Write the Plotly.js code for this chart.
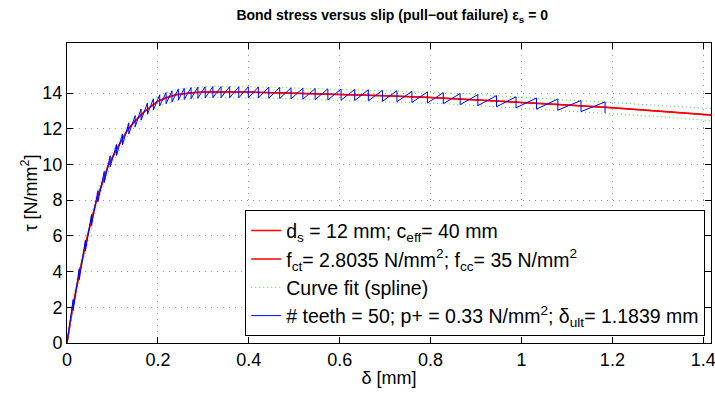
<!DOCTYPE html>
<html>
<head>
<meta charset="utf-8">
<script src="https://cdn.plot.ly/plotly-3.0.1.min.js"></script>
<style>html,body{margin:0;padding:0;background:#fff}#chart{width:715px;height:394px}</style>
</head>
<body>
<div id="chart"></div>
<script>
// Smooth bond-slip curve (red)
const redDelta = [0, 0.0125, 0.028, 0.045, 0.065, 0.08, 0.091, 0.11, 0.135, 0.15, 0.17, 0.2, 0.22, 0.24, 0.27, 0.3, 0.35, 0.4, 0.5, 0.6, 0.7, 0.8, 0.9, 1.0, 1.1, 1.2, 1.3, 1.417];
const redTau   = [0, 2, 4, 6, 8, 9.15, 9.95, 10.88, 12.0, 12.43, 12.95, 13.55, 13.75, 13.9, 14.0, 14.05, 14.06, 14.05, 13.98, 13.92, 13.85, 13.75, 13.62, 13.47, 13.33, 13.17, 13.0, 12.77];

// Sawtooth (blue): tooth break positions, value just before the drop, value just after the drop
const teethDelta = [0, 0.0135, 0.027, 0.0405, 0.054, 0.068, 0.082, 0.095, 0.109, 0.122, 0.136, 0.150, 0.163, 0.177, 0.190, 0.204, 0.218, 0.231, 0.245, 0.258, 0.273, 0.288, 0.304, 0.321, 0.339, 0.358, 0.378, 0.399, 0.421, 0.444, 0.468, 0.493, 0.519, 0.546, 0.574, 0.603, 0.633, 0.663, 0.694, 0.726, 0.759, 0.793, 0.828, 0.865, 0.904, 0.945, 0.988, 1.033, 1.080, 1.131, 1.1839];
const teethStart = 0;
const blueTop = [2.43, 4.17, 5.77, 7.20, 8.53, 9.61, 10.48, 11.12, 11.71, 12.33, 12.73, 13.10, 13.43, 13.67, 13.90, 14.02, 14.12, 14.22, 14.26, 14.30, 14.33, 14.35, 14.36, 14.36, 14.36, 14.35, 14.35, 14.34, 14.33, 14.31, 14.29, 14.27, 14.25, 14.23, 14.22, 14.20, 14.18, 14.15, 14.13, 14.09, 14.06, 14.02, 13.97, 13.91, 13.85, 13.79, 13.72, 13.66, 13.58, 13.50];
const blueBottom = [1.81, 3.55, 5.15, 6.58, 7.91, 8.99, 9.86, 10.50, 11.09, 11.71, 12.11, 12.48, 12.81, 13.05, 13.28, 13.40, 13.50, 13.60, 13.64, 13.68, 13.71, 13.73, 13.74, 13.74, 13.74, 13.73, 13.73, 13.72, 13.71, 13.69, 13.67, 13.65, 13.63, 13.61, 13.60, 13.58, 13.56, 13.53, 13.51, 13.47, 13.44, 13.40, 13.35, 13.29, 13.23, 13.17, 13.10, 13.04, 12.96, 12.88];

// Spline envelope extension beyond the last tooth (green)
const extDelta = [1.25, 1.3, 1.35, 1.417];
const extUpper = [13.42, 13.33, 13.24, 13.13];
const extLower = [12.77, 12.68, 12.58, 12.45];

// Axis ticks
const xTicks = [0, 0.2, 0.4, 0.6, 0.8, 1, 1.2, 1.4];
const xTickText = ['0', '0.2', '0.4', '0.6', '0.8', '1', '1.2', '1.4'];
const yTicks = [0, 2, 4, 6, 8, 10, 12, 14];
const yTickText = ['0', '2', '4', '6', '8', '10', '12', '14'];

const legendNames = [
  'd<sub>s</sub> = 12 mm; c<sub>eff</sub>= 40 mm',
  'f<sub>ct</sub>= 2.8035 N/mm<sup>2</sup>; f<sub>cc</sub>= 35 N/mm<sup>2</sup>',
  'Curve fit (spline)',
  '# teeth = 50; p+ = 0.33 N/mm<sup>2</sup>; δ<sub>ult</sub>= 1.1839 mm'
];

// Build sawtooth path
const blueX = [teethDelta[0]], blueY = [teethStart];
for (let i = 1; i < teethDelta.length; i++) {
  blueX.push(teethDelta[i], teethDelta[i]);
  blueY.push(blueTop[i - 1], blueBottom[i - 1]);
}
const upX = [teethDelta[0]].concat(teethDelta.slice(1), extDelta);
const upY = [teethStart].concat(blueTop, extUpper);
const loY = [teethStart].concat(blueBottom, extLower);

const FONT = 'Liberation Sans, Arial, Helvetica, sans-serif';
const green = 'rgb(60,225,60)';

const traces = [
  {x: redDelta, y: redTau, mode: 'lines', name: legendNames[0], line: {color: '#ff0000', width: 1.5}},
  {x: redDelta, y: redTau, mode: 'lines', name: legendNames[1], line: {color: '#ff0000', width: 1.5}},
  {x: upX, y: upY, mode: 'lines', name: legendNames[2], line: {color: green, width: 1, dash: '1px,3px'}},
  {x: upX, y: loY, mode: 'lines', name: 'lower', showlegend: false, line: {color: green, width: 1, dash: '1px,3px'}},
  {x: blueX, y: blueY, mode: 'lines', name: legendNames[3], line: {color: '#0000ff', width: 1}}
];

const axisCommon = {
  showline: true, linecolor: '#000', linewidth: 1, mirror: 'ticks',
  ticks: 'inside', ticklen: 6, tickcolor: '#000', tickwidth: 1,
  showgrid: true, gridcolor: '#999', griddash: '1px,5px', gridwidth: 1,
  zeroline: false, ticklabeloverflow: 'allow',
  tickfont: {family: FONT, size: 18, color: '#000'}
};

const layout = {
  width: 715, height: 394,
  margin: {l: 67, r: 4, t: 43, b: 51, pad: 0},
  paper_bgcolor: '#fff', plot_bgcolor: '#fff',
  font: {family: FONT, color: '#000'},
  title: {text: '<b>Bond stress versus slip (pull−out failure) ε<sub>s</sub> = 0</b>',
          font: {family: FONT, size: 14, color: '#000'}, x: 0.505, xref: 'paper', y: 0.962, yref: 'container', yanchor: 'middle'},
  xaxis: Object.assign({}, axisCommon, {range: [0, 1.417], tickvals: xTicks, ticktext: xTickText, automargin: false,
          title: {text: 'δ [mm]', font: {family: FONT, size: 18}, standoff: 2}}),
  yaxis: Object.assign({}, axisCommon, {range: [0, 16.8], tickvals: yTicks, ticktext: yTickText, automargin: false,
          title: {text: 'τ [N/mm<sup>2</sup>]', font: {family: FONT, size: 18}, standoff: 0}}),
  showlegend: true,
  legend: {x: 0.991, y: 0.022, xanchor: 'right', yanchor: 'bottom', bgcolor: '#fff',
           bordercolor: '#000', borderwidth: 1, font: {family: FONT, size: 19.5, color: '#000'},
           tracegroupgap: 0}
};

Plotly.newPlot('chart', traces, layout, {displayModeBar: false, staticPlot: true});
</script>
</body>
</html>
